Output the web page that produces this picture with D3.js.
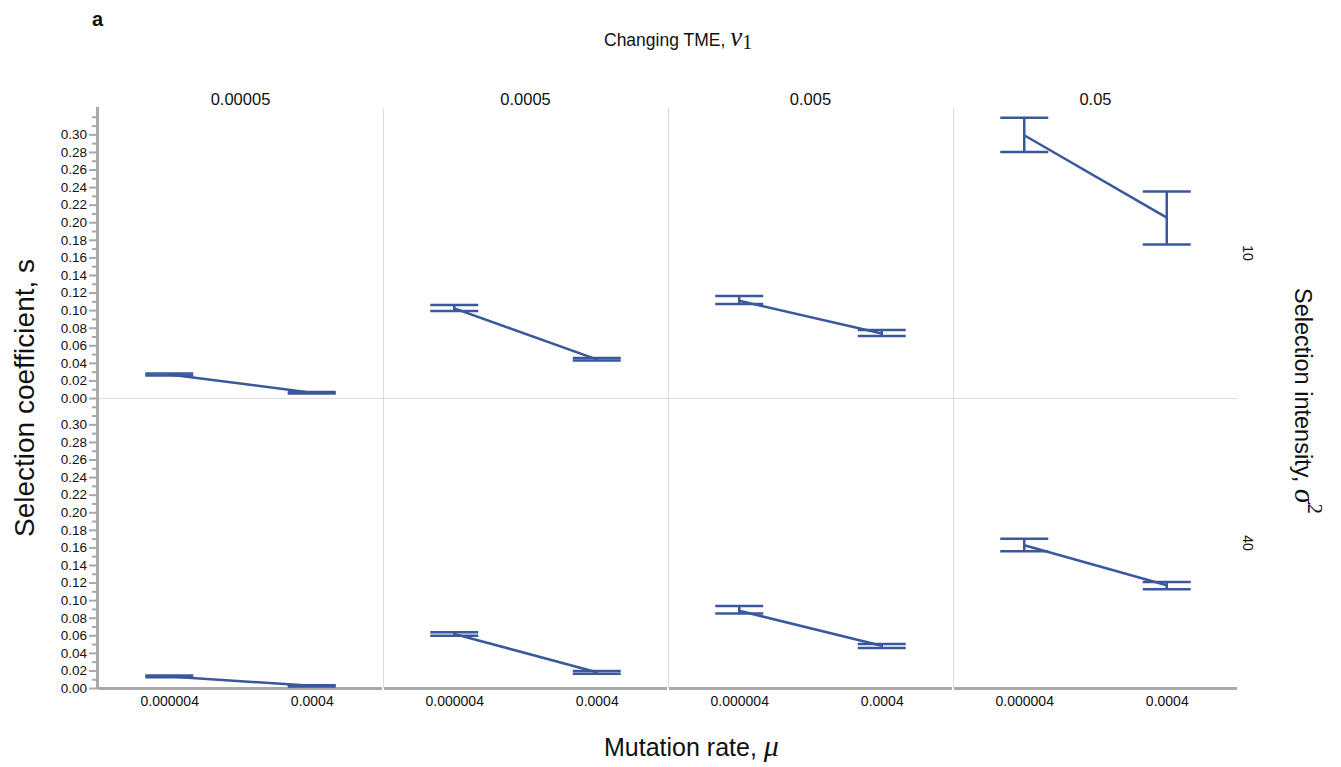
<!DOCTYPE html>
<html>
<head>
<meta charset="utf-8">
<script src="https://cdn.jsdelivr.net/npm/d3@7"></script>
<style>
  body { margin: 0; background: #fff; }
  text { font-family: "Liberation Sans", Arial, Helvetica, sans-serif; fill: #111; }
</style>
</head>
<body>
<svg id="chart" width="1341" height="767"></svg>
<script>
// facet levels
const tme_levels = ["0.00005", "0.0005", "0.005", "0.05"]
const intensity_levels = ["10", "40"]
const mutation_rates = ["0.000004", "0.0004"]

// values, ordered tme x mutation rate (0.000004, 0.0004 for each TME)
const s_mean_10 = [0.0267, 0.0060, 0.1020, 0.0440, 0.1106, 0.0735, 0.2990, 0.2053]
const s_low_10  = [0.0256, 0.0051, 0.0989, 0.0426, 0.1070, 0.0705, 0.2800, 0.1747]
const s_high_10 = [0.0278, 0.0068, 0.1057, 0.0455, 0.1160, 0.0773, 0.3190, 0.2350]

const s_mean_40 = [0.0130, 0.0025, 0.0615, 0.0180, 0.0879, 0.0480, 0.1625, 0.1170]
const s_low_40  = [0.0122, 0.0017, 0.0594, 0.0163, 0.0849, 0.0455, 0.1557, 0.1125]
const s_high_40 = [0.0142, 0.0030, 0.0633, 0.0193, 0.0932, 0.0500, 0.1697, 0.1205]

const s_ticks = [0, 0.02, 0.04, 0.06, 0.08, 0.10, 0.12, 0.14, 0.16, 0.18, 0.20, 0.22, 0.24, 0.26, 0.28, 0.30]
const s_minor_ticks = [0.01, 0.03, 0.05, 0.07, 0.09, 0.11, 0.13, 0.15, 0.17, 0.19, 0.21, 0.23, 0.25, 0.27, 0.29, 0.31, 0.32]

const line_color = "#3a589c"
const axis_color = "#a9a9a9"
const grid_color = "#dcdcdc"

const series = {
  "10": { mean: s_mean_10, low: s_low_10, high: s_high_10 },
  "40": { mean: s_mean_40, low: s_low_40, high: s_high_40 },
}

// build records
const records = []
intensity_levels.forEach(intensity => {
  tme_levels.forEach((tme, i) => {
    mutation_rates.forEach((mu, j) => {
      const k = i * mutation_rates.length + j
      records.push({
        intensity: intensity, tme: tme, mu: mu,
        mean: series[intensity].mean[k],
        low: series[intensity].low[k],
        high: series[intensity].high[k],
      })
    })
  })
})

const marginLeft = 98
const marginTop = 108
const panel_w = 285
const panel_h = 290
const cap_half = 24

const svg = d3.select("#chart")

const col_scale = d3.scaleBand().domain(tme_levels).range([marginLeft, marginLeft + panel_w * tme_levels.length])
const row_scale = d3.scaleBand().domain(intensity_levels).range([marginTop, marginTop + panel_h * intensity_levels.length])
const x_mu = d3.scalePoint().domain(mutation_rates).range([0, panel_w]).padding(0.5)
const y_s = d3.scaleLinear().domain([0, 0.33]).range([panel_h, 0])

const right = marginLeft + panel_w * tme_levels.length
const bottom = marginTop + panel_h * intensity_levels.length

// grid lines between panels
svg.append("g").selectAll("line.vgrid")
  .data(tme_levels.slice(1))
  .enter().append("line")
  .attr("x1", d => col_scale(d) + 0.5)
  .attr("x2", d => col_scale(d) + 0.5)
  .attr("y1", marginTop)
  .attr("y2", bottom)
  .attr("stroke", grid_color)
  .attr("stroke-width", 1)

svg.append("g").selectAll("line.hgrid")
  .data(intensity_levels.slice(1))
  .enter().append("line")
  .attr("x1", marginLeft)
  .attr("x2", right)
  .attr("y1", d => row_scale(d) + 0.5)
  .attr("y2", d => row_scale(d) + 0.5)
  .attr("stroke", grid_color)
  .attr("stroke-width", 1)

// y axes, one per row
intensity_levels.forEach(intensity => {
  const g = svg.append("g")
    .attr("transform", `translate(${marginLeft - 1},${row_scale(intensity)})`)

  g.append("g")
    .call(d3.axisLeft(y_s).tickValues(s_minor_ticks).tickSize(5).tickFormat(""))
    .call(a => a.select(".domain").remove())
    .call(a => a.selectAll("line").attr("stroke", axis_color).attr("stroke-width", 2))

  g.append("g")
    .call(d3.axisLeft(y_s).tickValues(s_ticks).tickSize(8).tickPadding(2).tickFormat(d3.format(".2f")))
    .call(a => a.select(".domain").remove())
    .call(a => a.selectAll("line").attr("stroke", axis_color).attr("stroke-width", 2))
    .call(a => a.selectAll("text").attr("font-size", 13.5).attr("fill", "#111")
      .attr("font-family", '"Liberation Sans", Arial, sans-serif'))
})

svg.append("line")
  .attr("x1", marginLeft - 0.5)
  .attr("x2", marginLeft - 0.5)
  .attr("y1", marginTop - 1)
  .attr("y2", bottom + 1.5)
  .attr("stroke", axis_color)
  .attr("stroke-width", 3)

// x axes, one per column
tme_levels.forEach(tme => {
  const g = svg.append("g")
    .attr("transform", `translate(${col_scale(tme)},${bottom})`)

  g.append("g")
    .call(d3.axisBottom(x_mu).tickSize(0).tickPadding(8))
    .call(a => a.select(".domain").remove())
    .call(a => a.selectAll("text").attr("font-size", 14).attr("fill", "#111")
      .attr("font-family", '"Liberation Sans", Arial, sans-serif'))

  g.append("line")
    .attr("x1", 1)
    .attr("x2", panel_w - 1)
    .attr("y1", 0.5)
    .attr("y2", 0.5)
    .attr("stroke", axis_color)
    .attr("stroke-width", 3)
})

// column headers
svg.append("g").selectAll("text")
  .data(tme_levels)
  .enter().append("text")
  .attr("x", d => col_scale(d) + panel_w / 2)
  .attr("y", marginTop - 3)
  .attr("text-anchor", "middle")
  .attr("font-size", 16.5)
  .text(d => d)

// row labels on the right
svg.append("g").selectAll("text")
  .data(intensity_levels)
  .enter().append("text")
  .attr("transform", d => `translate(${right + 5},${row_scale(d) + panel_h / 2}) rotate(90)`)
  .attr("text-anchor", "middle")
  .attr("font-size", 14)
  .text(d => d)

// error bars and connecting lines
const panels = svg.append("g")

records.forEach(r => {
  r.px = col_scale(r.tme) + x_mu(r.mu)
  r.py = row_scale(r.intensity)
})

const line = d3.line()
  .x(d => d.px)
  .y(d => d.py + y_s(d.mean))

intensity_levels.forEach(intensity => {
  tme_levels.forEach(tme => {
    const pts = records.filter(r => r.intensity == intensity && r.tme == tme)
    panels.append("path")
      .datum(pts)
      .attr("d", line)
      .attr("fill", "none")
      .attr("stroke", line_color)
      .attr("stroke-width", 2.5)
  })
})

const bars = panels.selectAll("g.errbar")
  .data(records)
  .enter().append("g")
  .attr("class", "errbar")

bars.append("line")
  .attr("x1", d => d.px)
  .attr("x2", d => d.px)
  .attr("y1", d => d.py + y_s(d.low))
  .attr("y2", d => d.py + y_s(d.high))
  .attr("stroke", line_color)
  .attr("stroke-width", 2.5)

bars.selectAll("line.cap")
  .data(d => [{ x: d.px, y: d.py + y_s(d.low) }, { x: d.px, y: d.py + y_s(d.high) }])
  .enter().append("line")
  .attr("class", "cap")
  .attr("x1", d => d.x - cap_half)
  .attr("x2", d => d.x + cap_half)
  .attr("y1", d => d.y)
  .attr("y2", d => d.y)
  .attr("stroke", line_color)
  .attr("stroke-width", 2.5)

// titles
svg.append("text")
  .attr("x", 92)
  .attr("y", 26)
  .attr("font-size", 20)
  .attr("font-weight", "bold")
  .text("a")

const top_title = svg.append("text")
  .attr("x", 604)
  .attr("y", 46)
  .attr("font-size", 17.5)
top_title.append("tspan").text("Changing TME, ")
top_title.append("tspan")
  .attr("font-family", '"Liberation Serif", "DejaVu Serif", serif')
  .attr("font-style", "italic")
  .attr("font-size", 27)
  .text("v")
top_title.append("tspan")
  .attr("font-family", '"Liberation Serif", "DejaVu Serif", serif')
  .attr("font-size", 20)
  .attr("dy", 3)
  .text("1")

const x_title = svg.append("text")
  .attr("x", 604)
  .attr("y", 756)
  .attr("font-size", 25)
x_title.append("tspan").text("Mutation rate, ")
x_title.append("tspan")
  .attr("font-family", '"Liberation Serif", "DejaVu Serif", serif')
  .attr("font-style", "italic")
  .attr("font-size", 30)
  .text("μ")

svg.append("text")
  .attr("transform", `translate(34,${marginTop + panel_h})rotate(-90)`)
  .attr("text-anchor", "middle")
  .attr("font-size", 28)
  .text("Selection coefficient, s")

const r_title = svg.append("text")
  .attr("transform", `translate(1295,288)rotate(90)`)
  .attr("font-size", 23.5)
r_title.append("tspan").text("Selection intensity, ")
r_title.append("tspan")
  .attr("font-family", '"Liberation Serif", "DejaVu Serif", serif')
  .attr("font-style", "italic")
  .attr("font-size", 30)
  .text("σ")
r_title.append("tspan")
  .attr("font-family", '"Liberation Serif", "DejaVu Serif", serif')
  .attr("font-size", 21)
  .attr("dy", -13)
  .text("2")
</script>
</body>
</html>
